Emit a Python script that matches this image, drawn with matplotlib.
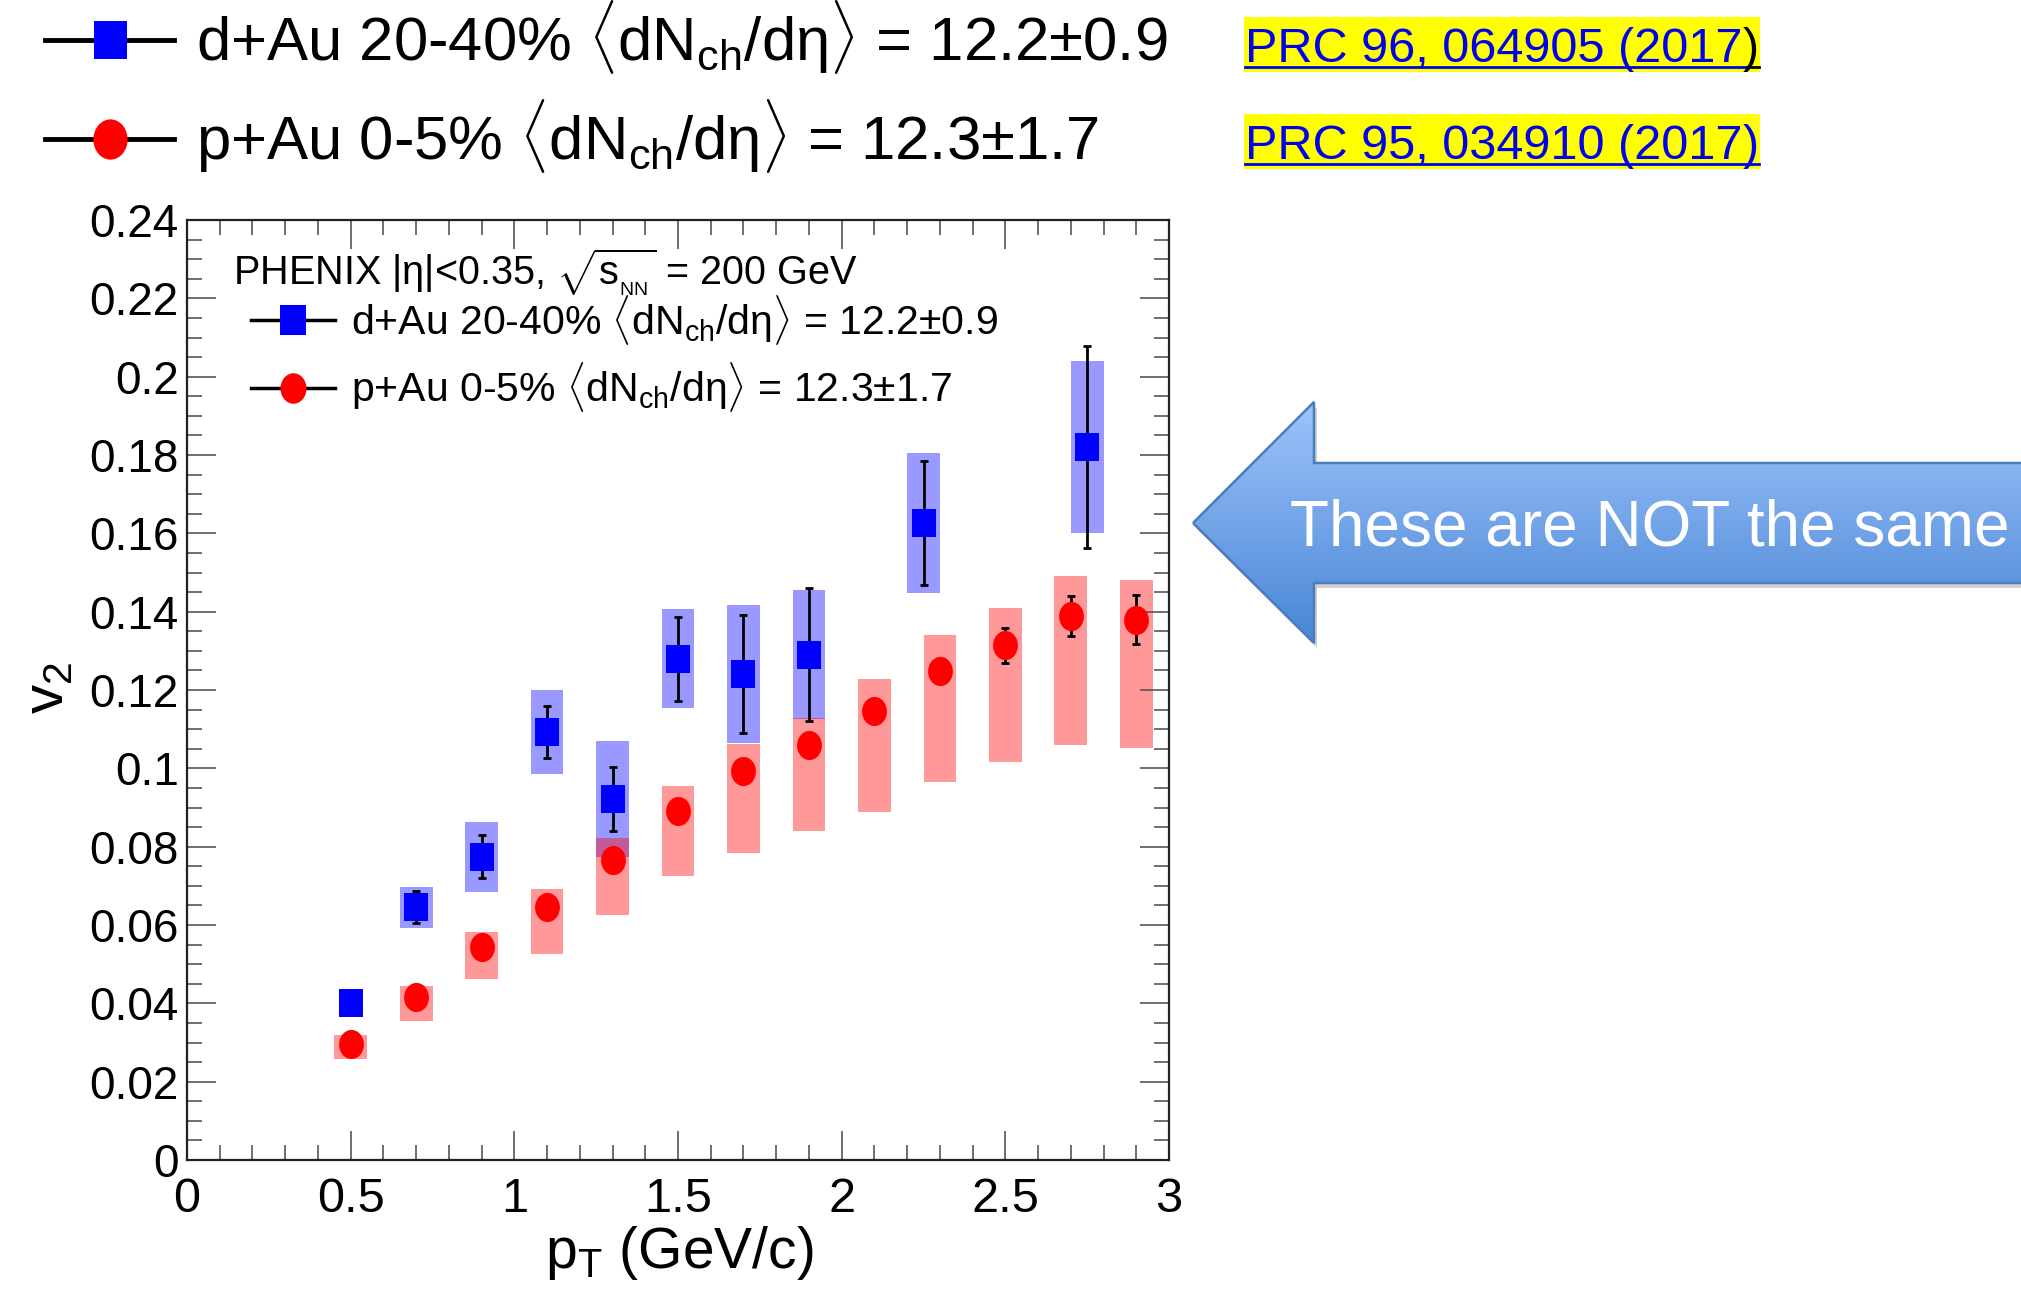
"""
PHENIX v2 vs pT: d+Au 20-40% vs p+Au 0-5% at matched multiplicity.
"""

import numpy as np
import matplotlib
matplotlib.use("Agg")
import matplotlib.pyplot as plt
import matplotlib.ticker as ticker
from matplotlib.path import Path
from matplotlib.patches import Polygon, Rectangle
from matplotlib.transforms import Affine2D

# ── data ────────────────────────────────────────────────
DAU_PT   = [0.5, 0.7, 0.9, 1.1, 1.3, 1.5, 1.7, 1.9, 2.25, 2.75]
DAU_V2   = [0.0402, 0.0645, 0.0774, 0.1093, 0.0922, 0.128, 0.1241, 0.129, 0.1626, 0.182]
DAU_STAT = [0.001, 0.0041, 0.0055, 0.0066, 0.0082, 0.0107, 0.015, 0.017, 0.0158, 0.0258]
DAU_SYS  = [0.0, 0.0053, 0.009, 0.0107, 0.0148, 0.0127, 0.0177, 0.0165, 0.0178, 0.022]

PAU_PT   = [0.5, 0.7, 0.9, 1.1, 1.3, 1.5, 1.7, 1.9, 2.1, 2.3, 2.5, 2.7, 2.9]
PAU_V2   = [0.0296, 0.0415, 0.0543, 0.0645, 0.0767, 0.0892, 0.0994, 0.106,
            0.1146, 0.1248, 0.1314, 0.1389, 0.138]
PAU_STAT = [0.001, 0.001, 0.0015, 0.0015, 0.002, 0.002, 0.002, 0.002,
            0.002, 0.0028, 0.0045, 0.005, 0.0063]
PAU_SYS_UP = [0.0023, 0.0029, 0.004, 0.0046, 0.0056, 0.0063, 0.0069, 0.0069,
              0.0082, 0.0092, 0.0095, 0.0102, 0.0101]
PAU_SYS_DN = [0.0039, 0.0059, 0.0082, 0.0118, 0.0141, 0.0168, 0.021, 0.022,
              0.0257, 0.0283, 0.0297, 0.0329, 0.0327]

BOX_WIDTH = 0.1

DAU_LABEL = r"d+Au 20-40% $\langle$dN$_{\mathrm{ch}}$/d$\mathrm{\eta}\rangle$ = 12.2$\pm$0.9"
PAU_LABEL = r"p+Au 0-5% $\langle$dN$_{\mathrm{ch}}$/d$\mathrm{\eta}\rangle$ = 12.3$\pm$1.7"
HEADER = r"PHENIX |$\mathrm{\eta}$|<0.35, $\sqrt{\mathrm{s}_{_{\mathrm{NN}}}}$ = 200 GeV"
REFS = ["PRC 96, 064905 (2017", "PRC 95, 034910 (2017"]
ARROW_TEXT = "These are NOT the same"

# ── style ───────────────────────────────────────────────
plt.rcParams.update({
    "font.family": ["Liberation Sans", "DejaVu Sans"],
    "mathtext.fontset": "custom",
    "mathtext.rm": "Liberation Sans",
    "mathtext.it": "Liberation Sans:italic",
    "mathtext.bf": "Liberation Sans:bold",
})

W, H = 2021, 1298
fig = plt.figure(figsize=(W / 100, H / 100), dpi=100)
fig.patch.set_facecolor("white")

# ROOT plot got stretched vertically -> slightly tall markers
CIRCLE = Path.unit_circle().transformed(Affine2D().scale(0.85, 1.0))
SQUARE = Path.unit_rectangle().transformed(
    Affine2D().translate(-0.5, -0.5).scale(0.88, 1.0))

ax = fig.add_axes([187 / W, 1 - 1160 / H, (1169 - 187) / W, (1160 - 220) / H])

# systematic boxes
dau_v2 = np.array(DAU_V2)
dau_sys = np.array(DAU_SYS)
ax.bar(DAU_PT, 2 * dau_sys, bottom=dau_v2 - dau_sys, width=BOX_WIDTH,
       color="blue", alpha=0.4, linewidth=0, zorder=1)
pau_v2 = np.array(PAU_V2)
up = np.array(PAU_SYS_UP)
dn = np.array(PAU_SYS_DN)
ax.bar(PAU_PT, up + dn, bottom=pau_v2 - dn, width=BOX_WIDTH,
       color="red", alpha=0.4, linewidth=0, zorder=1)

# stat errors + points
ax.errorbar(DAU_PT, DAU_V2, yerr=DAU_STAT, fmt="none", ecolor="black",
            elinewidth=2, capsize=3, capthick=2, zorder=3)
ax.errorbar(PAU_PT, PAU_V2, yerr=PAU_STAT, fmt="none", ecolor="black",
            elinewidth=2, capsize=3, capthick=2, zorder=3)
ax.plot(DAU_PT, DAU_V2, ls="none", marker=SQUARE, ms=20, color="blue",
        markeredgewidth=0, zorder=4)
ax.plot(PAU_PT, PAU_V2, ls="none", marker=CIRCLE, ms=21, color="red",
        markeredgewidth=0, zorder=4)

ax.set_xlim(0, 3)
ax.set_ylim(0, 0.24)
ax.xaxis.set_major_locator(ticker.MultipleLocator(0.5))
ax.xaxis.set_minor_locator(ticker.MultipleLocator(0.1))
ax.yaxis.set_major_locator(ticker.MultipleLocator(0.02))
ax.yaxis.set_minor_locator(ticker.MultipleLocator(0.005))
ax.xaxis.set_major_formatter(ticker.FuncFormatter(lambda v, _: f"{v:g}"))
ax.yaxis.set_major_formatter(ticker.FuncFormatter(lambda v, _: f"{round(v, 3):g}"))
ax.tick_params(which="both", direction="in", top=True, right=True,
               color="#555555", width=1.2)
ax.tick_params(which="major", length=21)
ax.tick_params(which="minor", length=11)
ax.tick_params(axis="y", labelsize=33, pad=6)
ax.tick_params(axis="x", labelsize=35, pad=12)
for sp in ax.spines.values():
    sp.set_linewidth(1.6)
    sp.set_color("#222222")

# ── overlay in pixel coords (y down) ────────────────────
ov = fig.add_axes([0, 0, 1, 1], zorder=5)
ov.set_xlim(0, W)
ov.set_ylim(H, 0)
ov.axis("off")

# axis titles
ov.text(679, 1268, r"p$_{\mathrm{T}}$ (GeV/c)", fontsize=41, ha="center", va="baseline")
ov.text(48, 688, r"v$_{2}$", fontsize=42, rotation=90, ha="center", va="center")

# inner legend
ov.text(233, 285, HEADER, fontsize=28.5, va="baseline")
ov.plot([251, 335], [320, 320], color="black", lw=2.5)
ov.plot([293], [320], marker=SQUARE, ms=21, color="blue", markeredgewidth=0)
ov.text(351, 335, DAU_LABEL, fontsize=29.5, va="baseline")
ov.plot([251, 335], [388, 388], color="black", lw=2.5)
ov.plot([293], [388], marker=CIRCLE, ms=22, color="red", markeredgewidth=0)
ov.text(351, 402, PAU_LABEL, fontsize=29.5, va="baseline")

# top legend (outside plot)
ov.plot([45, 174], [40, 40], color="black", lw=3.5)
ov.plot([110], [40], marker=SQUARE, ms=27, color="blue", markeredgewidth=0)
ov.text(196, 61, DAU_LABEL, fontsize=44.4, va="baseline")
ov.plot([45, 174], [139, 139], color="black", lw=3.5)
ov.plot([110], [139], marker=CIRCLE, ms=29, color="red", markeredgewidth=0)
ov.text(196, 160, PAU_LABEL, fontsize=44.4, va="baseline")

# references, yellow highlight + underline
fig.canvas.draw()
renderer = fig.canvas.get_renderer()
for ref, base in zip(REFS, [62, 159]):
    t = ov.text(1245, base, ref, fontsize=35, color="#0000ee", va="baseline", zorder=3)
    bb = t.get_window_extent(renderer)
    x1 = bb.x1
    cc = "black" if base == 62 else "#0000ee"
    t2 = ov.text(x1, base, ")", fontsize=35, color=cc, va="baseline", zorder=3)
    x2 = t2.get_window_extent(renderer).x1
    ov.add_patch(Rectangle((1244, base - 45), x2 - 1244 + 1, 55,
                           facecolor="#ffff00", edgecolor="none", zorder=1))
    ov.plot([1245, x1 + 4], [base + 5, base + 5], color="#0000ee", lw=2, zorder=4)
    ov.plot([x1 + 4, x2], [base + 5, base + 5], color=cc, lw=2, zorder=4)

# block arrow with vertical gradient
arrow_xy = [(1193, 523), (1314, 402), (1314, 463), (2040, 463),
            (2040, 583), (1314, 583), (1314, 643)]
shadow = Polygon([(x + 3, y + 5) for x, y in arrow_xy], closed=True,
                 facecolor="#000000", alpha=0.18, edgecolor="none", zorder=1)
ov.add_patch(shadow)
arrow = Polygon(arrow_xy, closed=True, facecolor="none",
                edgecolor="#4a7ebb", lw=1.8, zorder=3)
ov.add_patch(arrow)
top_c = np.array([0.62, 0.77, 0.99])
bot_c = np.array([0.28, 0.52, 0.83])
frac = np.linspace(0, 1, 256)[:, None, None]
grad = top_c * (1 - frac) + bot_c * frac
im = ov.imshow(grad, extent=(1185, 2040, 645, 400), origin="upper",
               aspect="auto", zorder=2, interpolation="bilinear")
im.set_clip_path(arrow)
ov.set_xlim(0, W)
ov.set_ylim(H, 0)
ov.text(1290, 546, ARROW_TEXT, fontsize=46, color="white", va="baseline", zorder=4)

fig.savefig("out.png", dpi=100, facecolor="white")
plt.close(fig)
